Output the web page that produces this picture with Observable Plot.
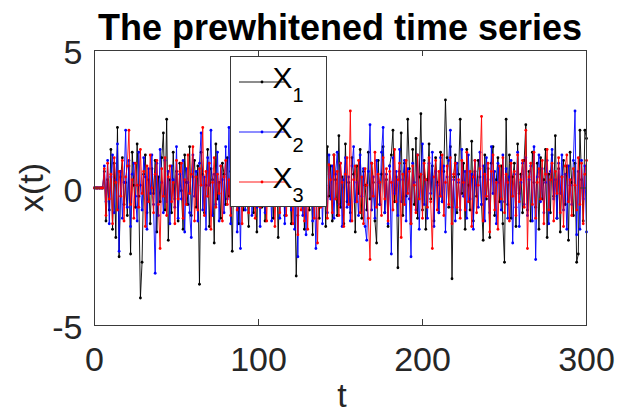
<!DOCTYPE html>
<html>
<head>
<meta charset="utf-8">
<script src="https://cdn.jsdelivr.net/npm/d3@7"></script>
<script src="https://cdn.jsdelivr.net/npm/@observablehq/plot@0.6"></script>
<style>
  html, body { margin: 0; padding: 0; background: #ffffff; }
  #chart { width: 617px; height: 416px; }
</style>
</head>
<body>
<div id="chart"></div>
<script>
// ---- data (t = 0 .. 300) ----
const x1 = [0, 0, 0, 0, 0, 0,
  0.6, -1.2, 0.3, -0.8, 1.4, -1.5, 0.9, -1.8, 2.2, -2.5,
  0.4, 1.1, -0.6, 0.2, -1.0, 0.8, -2.4, 1.3, 0.1, -0.7,
  1.6, -0.3, -4.0, -2.7, 0.5, 1.2, -0.9, 0.3, -1.3, 0.7,
  -0.2, 1.0, -1.6, 0.4, -0.5, 1.1, 2.0, -0.8, 2.5, -1.9,
  0.3, -0.9, 1.3, -0.4, 0.6, -1.2, 0.9, -0.1, -1.5, 1.2,
  0.2, -0.6, 1.5, -1.0, 0.4, 1.0, -0.7, 0.8, -3.5, 1.3,
  0.5, -0.9, 0.1, 1.4, -1.4, 0.7, 0.3, -2.0, 1.6, -0.4,
  0.2, -1.1, 0.9, 0.5, -0.6, 1.1, -0.3, 0.6, -2.3, 0.8,
  -0.5, 1.2, -1.3, 0.3, 0.9, -0.8, 1.5, -0.2, -1.4, 0.6,
  1.0, -0.9, 0.2, -1.6, 1.3, 0.4, -0.7, 0.9, -1.2, 0.1,
  1.7, -0.5, 0.6, -1.1, 0.3, 1.1, -1.8, 0.5, -0.3, 0.8,
  -1.0, 1.4, -0.6, 0.2, -1.3, 0.9, 0.4, -3.2, -1.0, 1.0,
  -0.4, 0.7, -1.5, 1.2, 0.1, -0.8, 0.6, -1.7, 1.3, -0.2,
  0.5, -1.1, 0.9, -0.6, 1.0, -1.4, 1.5, -0.3, 0.8, -1.2,
  1.2, 0.3, -1.0, 1.9, -0.7, 0.4, -1.3, 1.6, -0.5, 0.2,
  -0.9, 1.1, 0.5, -1.6, 0.8, -0.2, 1.4, -1.1, 0.6, 0.1,
  -0.8, 1.3, -0.4, 0.9, 0.2, -1.2, -2.0, 1.0, -0.6, 0.5,
  1.5, -0.9, 0.3, -1.4, 0.8, 1.2, 2.1, -0.5, 0.4, -2.9,
  0.6, 2.0, -1.0, 0.9, -0.3, 2.5, 0.7, -1.3, 1.4, -0.6,
  1.8, -1.1, 0.4, 2.7, -0.8, 1.0, -1.5, 0.3, 1.6, -0.4,
  0.8, -1.2, 1.1, 0.2, -0.9, 1.3, -0.5, 0.6, 3.2, 1.1,
  -0.7, 1.5, -3.3, 0.4, 1.2, -0.9, 0.5, 2.5, -0.2, 0.9,
  -1.5, 1.4, 0.1, -0.8, 1.7, -1.2, 0.6, -0.3, 1.0, 0.4,
  -0.6, -1.9, 1.2, -0.4, 0.7, -1.8, 0.9, 1.5, -1.0, 0.3,
  1.1, -0.5, 0.8, -1.3, -2.7, 2.5, -0.6, 1.2, -1.1, 0.4,
  0.9, -1.4, 1.6, -0.2, 0.5, -0.9, 1.0, 2.3, -0.8, 0.6,
  -1.2, 1.3, 0.2, -0.7, 0.9, -1.5, 1.1, -0.4, 0.3, 1.4,
  -1.8, 0.5, -0.9, 1.2, -0.3, 1.9, -1.1, 0.7, -1.6, 0.4,
  1.0, -0.6, 0.8, -1.9, 1.3, 0.2, -1.0, 0.9, -2.7, -2.4,
  2.1, 0.3, -1.2, 2.1, 1.8];

const x2 = [0, 0, 0, 0, 0, 0,
  0.8, -0.5, 1.0, -1.3, 0.4, 1.2, -0.9, 0.3, 1.6, -2.3,
  0.6, -1.1, 0.2, 2.1, -0.7, 1.0, -1.4, 0.5, 0.9, -0.3,
  -1.2, 1.3, 0.1, -0.8, 1.1, 0.4, -1.5, 0.7, -0.2, 1.2,
  -0.6, -3.1, 0.9, -1.0, 1.4, 0.2, -0.9, 1.0, -0.5, 0.6,
  -1.3, 0.8, 0.3, -0.7, 1.5, -1.1, 0.5, -0.4, 1.0, -1.6,
  0.7, 0.2, -0.9, -1.8, 1.2, -0.3, 0.6, -1.2, 0.9, 2.0,
  -0.8, 0.4, -1.5, 1.1, 0.1, 2.1, -1.0, 0.5, -0.6, 1.3,
  -1.2, 0.8, 0.3, -0.9, 1.5, -0.4, 2.2, -1.3, 0.6, -0.2,
  1.0, -1.6, 0.4, -2.2, 1.2, 0.5, -0.8, 0.9, -0.3, 1.4,
  -1.0, 0.2, 1.1, -0.7, 0.6, -1.4, 0.8, 0.3, -0.9, 1.3,
  -0.4, 0.7, -1.2, 1.0, 0.1, -0.6, 1.5, -1.1, 0.4, 0.9,
  -1.3, 0.5, -0.2, 1.2, -0.8, 0.6, -1.5, 0.3, -2.5, 0.8,
  1.1, -1.0, 0.4, -1.7, 0.9, -0.3, 1.3, -1.2, 0.2, -2.2,
  0.7, -0.5, 1.0, -1.3, 0.6, 0.1, -0.9, 1.2, -0.4, 0.8,
  -1.1, 0.5, 1.3, -0.6, 0.9, -1.4, 0.3, 1.1, -0.7, 0.4,
  -1.2, 0.8, 1.5, -0.5, 0.2, -1.0, 1.2, -0.3, 0.7, -1.4,
  -1.9, 0.6, 2.3, -0.8, 0.4, -1.1, 1.0, 0.2, -0.6, 1.3,
  2.2, -0.9, 0.5, -1.3, 0.8, -2.4, 1.1, -0.2, 0.6, -1.0,
  1.4, -0.5, 0.3, 1.0, -1.2, 0.7, -0.4, -2.5, 0.9, 0.2,
  -0.8, 1.2, -1.5, 0.5, 1.6, -0.6, 0.3, -1.1, 0.9, -0.2,
  1.3, -1.4, 0.6, 0.1, -0.9, 1.1, -0.5, 0.8, -1.6, 0.4,
  1.0, 2.1, -0.7, 0.3, -1.2, 0.9, 0.2, -0.8, 1.4, -0.3,
  0.6, -1.1, 1.2, -0.4, 0.5, -1.5, 1.0, 0.1, -0.7, 1.3,
  -0.6, 0.8, -1.2, 1.1, 0.3, -0.9, 1.5, -0.2, 0.6, -1.3,
  0.9, 0.2, -0.8, 1.2, -0.5, 0.7, -1.1, 0.4, 1.0, -2.0,
  0.5, -0.7, 1.3, -1.4, 0.2, 0.9, -0.6, 1.1, -1.0, 0.3,
  0.8, -1.2, 1.5, -2.6, 0.4, 1.2, -0.5, 0.7, -0.9, 0.2,
  1.0, -1.3, 0.6, 1.4, -0.4, 0.3, -1.1, 0.9, -0.2, 1.2,
  -0.8, 0.5, -1.5, 0.8, 0.1, -0.6, 1.0, 2.8, -1.7, 0.6,
  -1.5, 1.0, -0.4, 0.8, -1.6];

const x3 = [0, 0, 0, 0, 0, 0,
  0.7, -1.0, 0.9, -0.4, 0.5, -1.3, 1.1, 0.2, -0.8, 0.6,
  -0.3, 1.0, -1.2, 0.4, 0.8, 2.1, -0.6, 0.3, -1.1, 0.9,
  0.1, -0.7, 1.4, -0.2, 0.6, -1.4, 0.8, -0.5, 1.2, 0.0,
  -0.9, 0.5, 1.0, -0.6, -2.2, 0.7, -0.3, 1.1, -1.0, 0.4,
  0.8, -0.5, 0.2, -1.3, 1.0, -0.4, 0.6, 0.9, -1.1, 0.3,
  -0.6, 1.2, -0.2, 0.5, 1.5, -1.2, 0.4, -0.8, 0.7, 0.1,
  2.2, -1.0, 0.6, -0.3, 0.9, -1.5, 0.2, 1.1, -0.7, 0.5,
  -0.2, 0.8, -1.2, 0.4, 1.0, -0.6, 0.3, -1.0, 0.7, -0.4,
  1.2, -0.8, 0.2, 0.6, -1.3, 0.9, -0.1, 0.5, -0.9, 1.1,
  -0.5, 0.3, -1.1, 0.8, 0.1, -0.7, 1.3, -0.4, 0.6, -1.2,
  0.9, 0.2, -0.6, 1.0, -1.4, 0.4, 0.7, -0.9, 0.3, -0.2,
  1.1, -1.0, 0.5, -0.5, 0.8, -1.3, 0.2, 0.6, -1.7, 0.4,
  -0.8, 1.0, -1.2, 0.3, -1.5, 0.7, -0.4, 0.9, -1.1, 0.2,
  -2.0, 0.6, -0.7, 1.0, -0.2, 0.5, -1.1, 0.85, 0.3, -0.9,
  1.2, -0.4, 0.6, -1.0, 0.9, 0.2, -1.4, 0.5, 1.1, -0.6,
  2.8, -1.2, 0.3, 0.8, -0.5, 1.0, -0.9, 0.4, -1.3, 0.7,
  0.1, -1.1, -2.6, 0.9, -0.3, 1.3, -0.7, 0.5, 0.2, -1.0,
  1.1, -0.4, 0.7, -1.2, 0.6, 0.2, -0.8, 1.4, -0.5, 0.3,
  0.9, -1.8, 0.5, -0.6, 1.0, -0.2, 0.6, -1.3, 0.8, 0.1,
  -0.9, 1.2, -0.4, 0.5, -1.1, 0.9, 0.3, -0.7, 1.1, -0.5,
  -2.2, 0.4, 1.0, -0.8, 0.6, -0.3, 1.2, -1.0, 0.2, 0.8,
  -0.6, 1.1, -1.3, 0.5, 0.9, -0.7, 0.3, -1.1, 1.0, 0.2,
  -0.8, 1.3, -0.5, 0.6, -1.4, 0.4, 1.0, -0.9, 0.1, 0.7,
  2.6, -1.2, 0.5, -0.3, 0.9, -1.6, 0.6, 1.2, -0.8, 0.2,
  -1.5, 0.8, -0.4, 1.1, -0.9, 0.5, 0.2, -1.2, 0.9, -0.3,
  0.6, -1.0, 1.2, -0.5, 0.3, 1.0, -0.7, 2.1, -2.2, 0.4,
  0.9, -0.6, 1.3, -1.1, 0.2, 0.7, -0.4, 1.0, -1.3, 0.5,
  1.4, -0.8, 0.3, 0.9, -1.2, 0.6, -0.2, 1.1, -0.9, 0.4,
  -1.4, 0.8, 1.2, -0.5, 0.3, -1.0, 0.7, 0.1, -0.8, 1.1,
  -0.6, 0.9, -1.3, 0.5, 1.0];

const seriesNames = ["1", "2", "3"];
const seriesColors = ["#000000", "#0000ff", "#ff0000"];
const seriesValues = [x1, x2, x3];
const xTicks = [0, 100, 200, 300];
const yTicks = [-5, 0, 5];
const titleText = "The prewhitened time series";
const xLabel = "t";
const yLabel = "x(t)";

// ---- styling ----
const font = "'Liberation Sans', Arial, Helvetica, sans-serif";
const ink = "#262626";
const W = 617, H = 416;
const mL = 94, mR = 31, mT = 50, mB = 91;
const fw = W - mL - mR, fh = H - mT - mB;
const tick = 6;

const seriesMarks = seriesValues.flatMap((vals, k) => [
  Plot.line(vals, {x: (d, i) => i, y: d => d, stroke: seriesColors[k], strokeWidth: 0.9}),
  Plot.dot(vals, {x: (d, i) => i, y: d => d, fill: seriesColors[k], r: 1.4, stroke: "none"})
]);

const plot = Plot.plot({
  width: W, height: H,
  marginLeft: mL, marginRight: mR, marginTop: mT, marginBottom: mB,
  style: {fontFamily: font, fontSize: "33px", color: ink, background: "#ffffff"},
  x: {domain: [0, 300]},
  y: {domain: [-5, 5]},
  marks: [
    ...seriesMarks,
    Plot.frame({stroke: "#3a3a3a", strokeWidth: 1}),
    Plot.tickX(xTicks, {x: d => d, stroke: "#3a3a3a", insetTop: fh - tick}),
    Plot.tickX(xTicks, {x: d => d, stroke: "#3a3a3a", insetBottom: fh - tick}),
    Plot.tickY(yTicks, {y: d => d, stroke: "#3a3a3a", insetRight: fw - tick}),
    Plot.tickY(yTicks, {y: d => d, stroke: "#3a3a3a", insetLeft: fw - tick}),
    Plot.axisX({ticks: xTicks, anchor: "bottom", tickSize: 0, tickPadding: 21,
      tickFormat: d => String(d), fontSize: 34, label: null, fill: ink}),
    Plot.axisY({ticks: yTicks, anchor: "left", tickSize: 0, tickPadding: 12,
      tickFormat: d => String(d), fontSize: 34, label: null, fill: ink, dy: 3})
  ]
});

const svg = d3.select(plot);

// title
svg.append("text")
  .attr("x", mL + fw / 2).attr("y", 40)
  .attr("text-anchor", "middle")
  .attr("font-family", font).attr("font-weight", "bold").attr("font-size", 36)
  .attr("fill", "#000")
  .text(titleText);

// axis labels
svg.append("text")
  .attr("x", mL + fw / 2 + 2).attr("y", 407)
  .attr("text-anchor", "middle")
  .attr("font-family", font).attr("font-size", 34).attr("fill", ink)
  .text(xLabel);
svg.append("text")
  .attr("transform", `translate(43,${mT + fh / 2}) rotate(-90)`)
  .attr("text-anchor", "middle")
  .attr("font-family", font).attr("font-size", 34).attr("fill", ink)
  .text(yLabel);

// legend
const lg = svg.append("g");
lg.append("rect")
  .attr("x", 230.5).attr("y", 56.5).attr("width", 96).attr("height", 150)
  .attr("fill", "#ffffff").attr("stroke", "#3a3a3a").attr("stroke-width", 1);
seriesNames.forEach((name, k) => {
  const cy = 82 + 50 * k;
  lg.append("line").attr("x1", 239).attr("x2", 285).attr("y1", cy).attr("y2", cy)
    .attr("stroke", seriesColors[k]).attr("stroke-width", 0.9);
  lg.append("circle").attr("cx", 262).attr("cy", cy).attr("r", 1.4).attr("fill", seriesColors[k]);
  const t = lg.append("text").attr("x", 288).attr("y", cy + 6)
    .attr("font-family", font).attr("font-size", 30).attr("fill", "#000");
  t.append("tspan").text("X");
  t.append("tspan").attr("font-size", 20).attr("dy", 14).text(name);
});

document.getElementById("chart").appendChild(plot);
</script>
</body>
</html>
